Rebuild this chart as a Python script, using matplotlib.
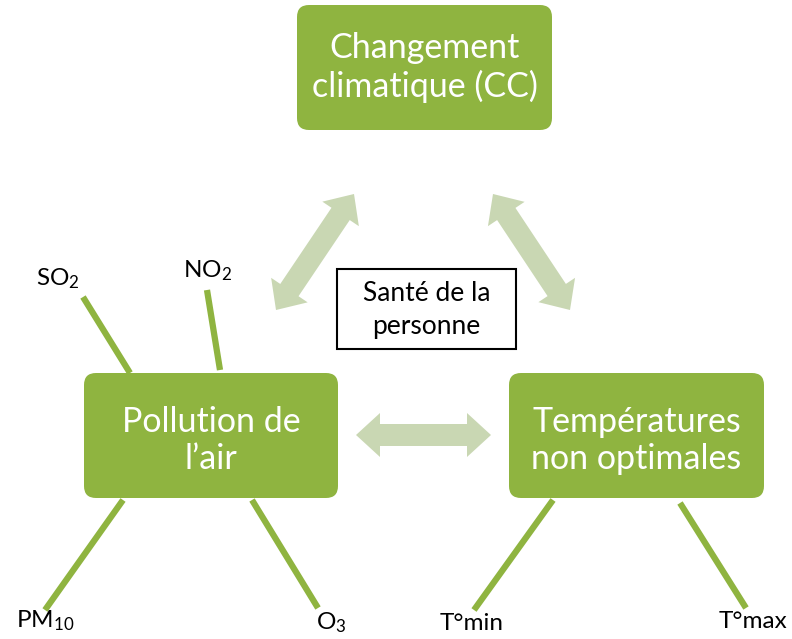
import matplotlib
matplotlib.use("Agg")
import matplotlib.pyplot as plt
from matplotlib.patches import FancyBboxPatch, Rectangle, Polygon
import numpy as np

plt.rcParams['font.family'] = ['Lato', 'DejaVu Sans']
plt.rcParams['mathtext.fontset'] = 'custom'
plt.rcParams['mathtext.rm'] = 'Lato'
plt.rcParams['mathtext.it'] = 'Lato'

# Diagram content
box_labels = ["Changement\nclimatique (CC)", "Pollution de\nl’air", "Températures\nnon optimales"]
center_label = "Santé de la\npersonne"
pollutant_labels = ["SO$_2$", "NO$_2$", "PM$_{10}$", "O$_3$"]
temperature_labels = ["T°min", "T°max"]

# Layout (pixel coords, y downward)
box_rects = [(297, 5, 255, 125), (84, 373, 254, 125), (509, 373, 255, 125)]
center_rect = (337, 269, 179, 80)
pollutant_lines = [((130, 373), (83, 297)), ((220, 370), (207, 290)),
                   ((123, 500), (45, 610)), ((252, 500), (318, 608))]
pollutant_label_pos = [(58, 279), (208, 271), (45, 621), (331, 623)]
temperature_lines = [((553, 500), (474, 610)), ((680, 503), (746, 608))]
temperature_label_pos = [(472, 623), (753, 621)]
arrows = [((276, 310), (354, 194)), ((493, 194), (570, 310)), ((356, 435), (491, 435))]

GREEN = '#8fb440'
LIGHT = '#c9d7b3'

fig = plt.figure(figsize=(7.92, 6.39), dpi=100)
ax = fig.add_axes([0, 0, 1, 1])
ax.set_xlim(0, 792)
ax.set_ylim(639, 0)
ax.axis('off')

def dbl_arrow(p0, p1, body=22, head=44, hlen=24):
    p0 = np.array(p0, float); p1 = np.array(p1, float)
    d = p1 - p0; L = np.linalg.norm(d); u = d / L; n = np.array([-u[1], u[0]])
    pts = [p0,
           p0 + u*hlen + n*head/2, p0 + u*hlen + n*body/2,
           p1 - u*hlen + n*body/2, p1 - u*hlen + n*head/2,
           p1,
           p1 - u*hlen - n*head/2, p1 - u*hlen - n*body/2,
           p0 + u*hlen - n*body/2, p0 + u*hlen - n*head/2]
    ax.add_patch(Polygon(pts, closed=True, facecolor=LIGHT, edgecolor='none', zorder=1))

for a, b in arrows:
    dbl_arrow(a, b)

for (a, b) in pollutant_lines + temperature_lines:
    ax.plot([a[0], b[0]], [a[1], b[1]], color=GREEN, lw=4.5, solid_capstyle='butt', zorder=1)

for i, ((x, y, w, h), lab) in enumerate(zip(box_rects, box_labels)):
    r = 12
    ax.add_patch(FancyBboxPatch((x + r, y + r), w - 2*r, h - 2*r,
                                boxstyle=f"round,pad={r},rounding_size={r}",
                                facecolor=GREEN, edgecolor='none', zorder=2))
    dy = 0 if i == 0 else 5
    ax.text(x + w/2, y + h/2 + dy, lab, ha='center', va='center', color='white',
            fontsize=24.5, linespacing=1.18, zorder=3)

x, y, w, h = center_rect
ax.add_patch(Rectangle((x, y), w, h, facecolor='white', edgecolor='black', lw=1.5, zorder=2))
ax.text(x + w/2, y + h/2 + 1, center_label, ha='center', va='center', color='black',
        fontsize=19, linespacing=1.4, zorder=3)

for lab, (px, py) in zip(pollutant_labels + temperature_labels,
                         pollutant_label_pos + temperature_label_pos):
    ax.text(px, py, lab, ha='center', va='center', color='black', fontsize=17.5, zorder=3)

fig.savefig('out.png', dpi=100)
